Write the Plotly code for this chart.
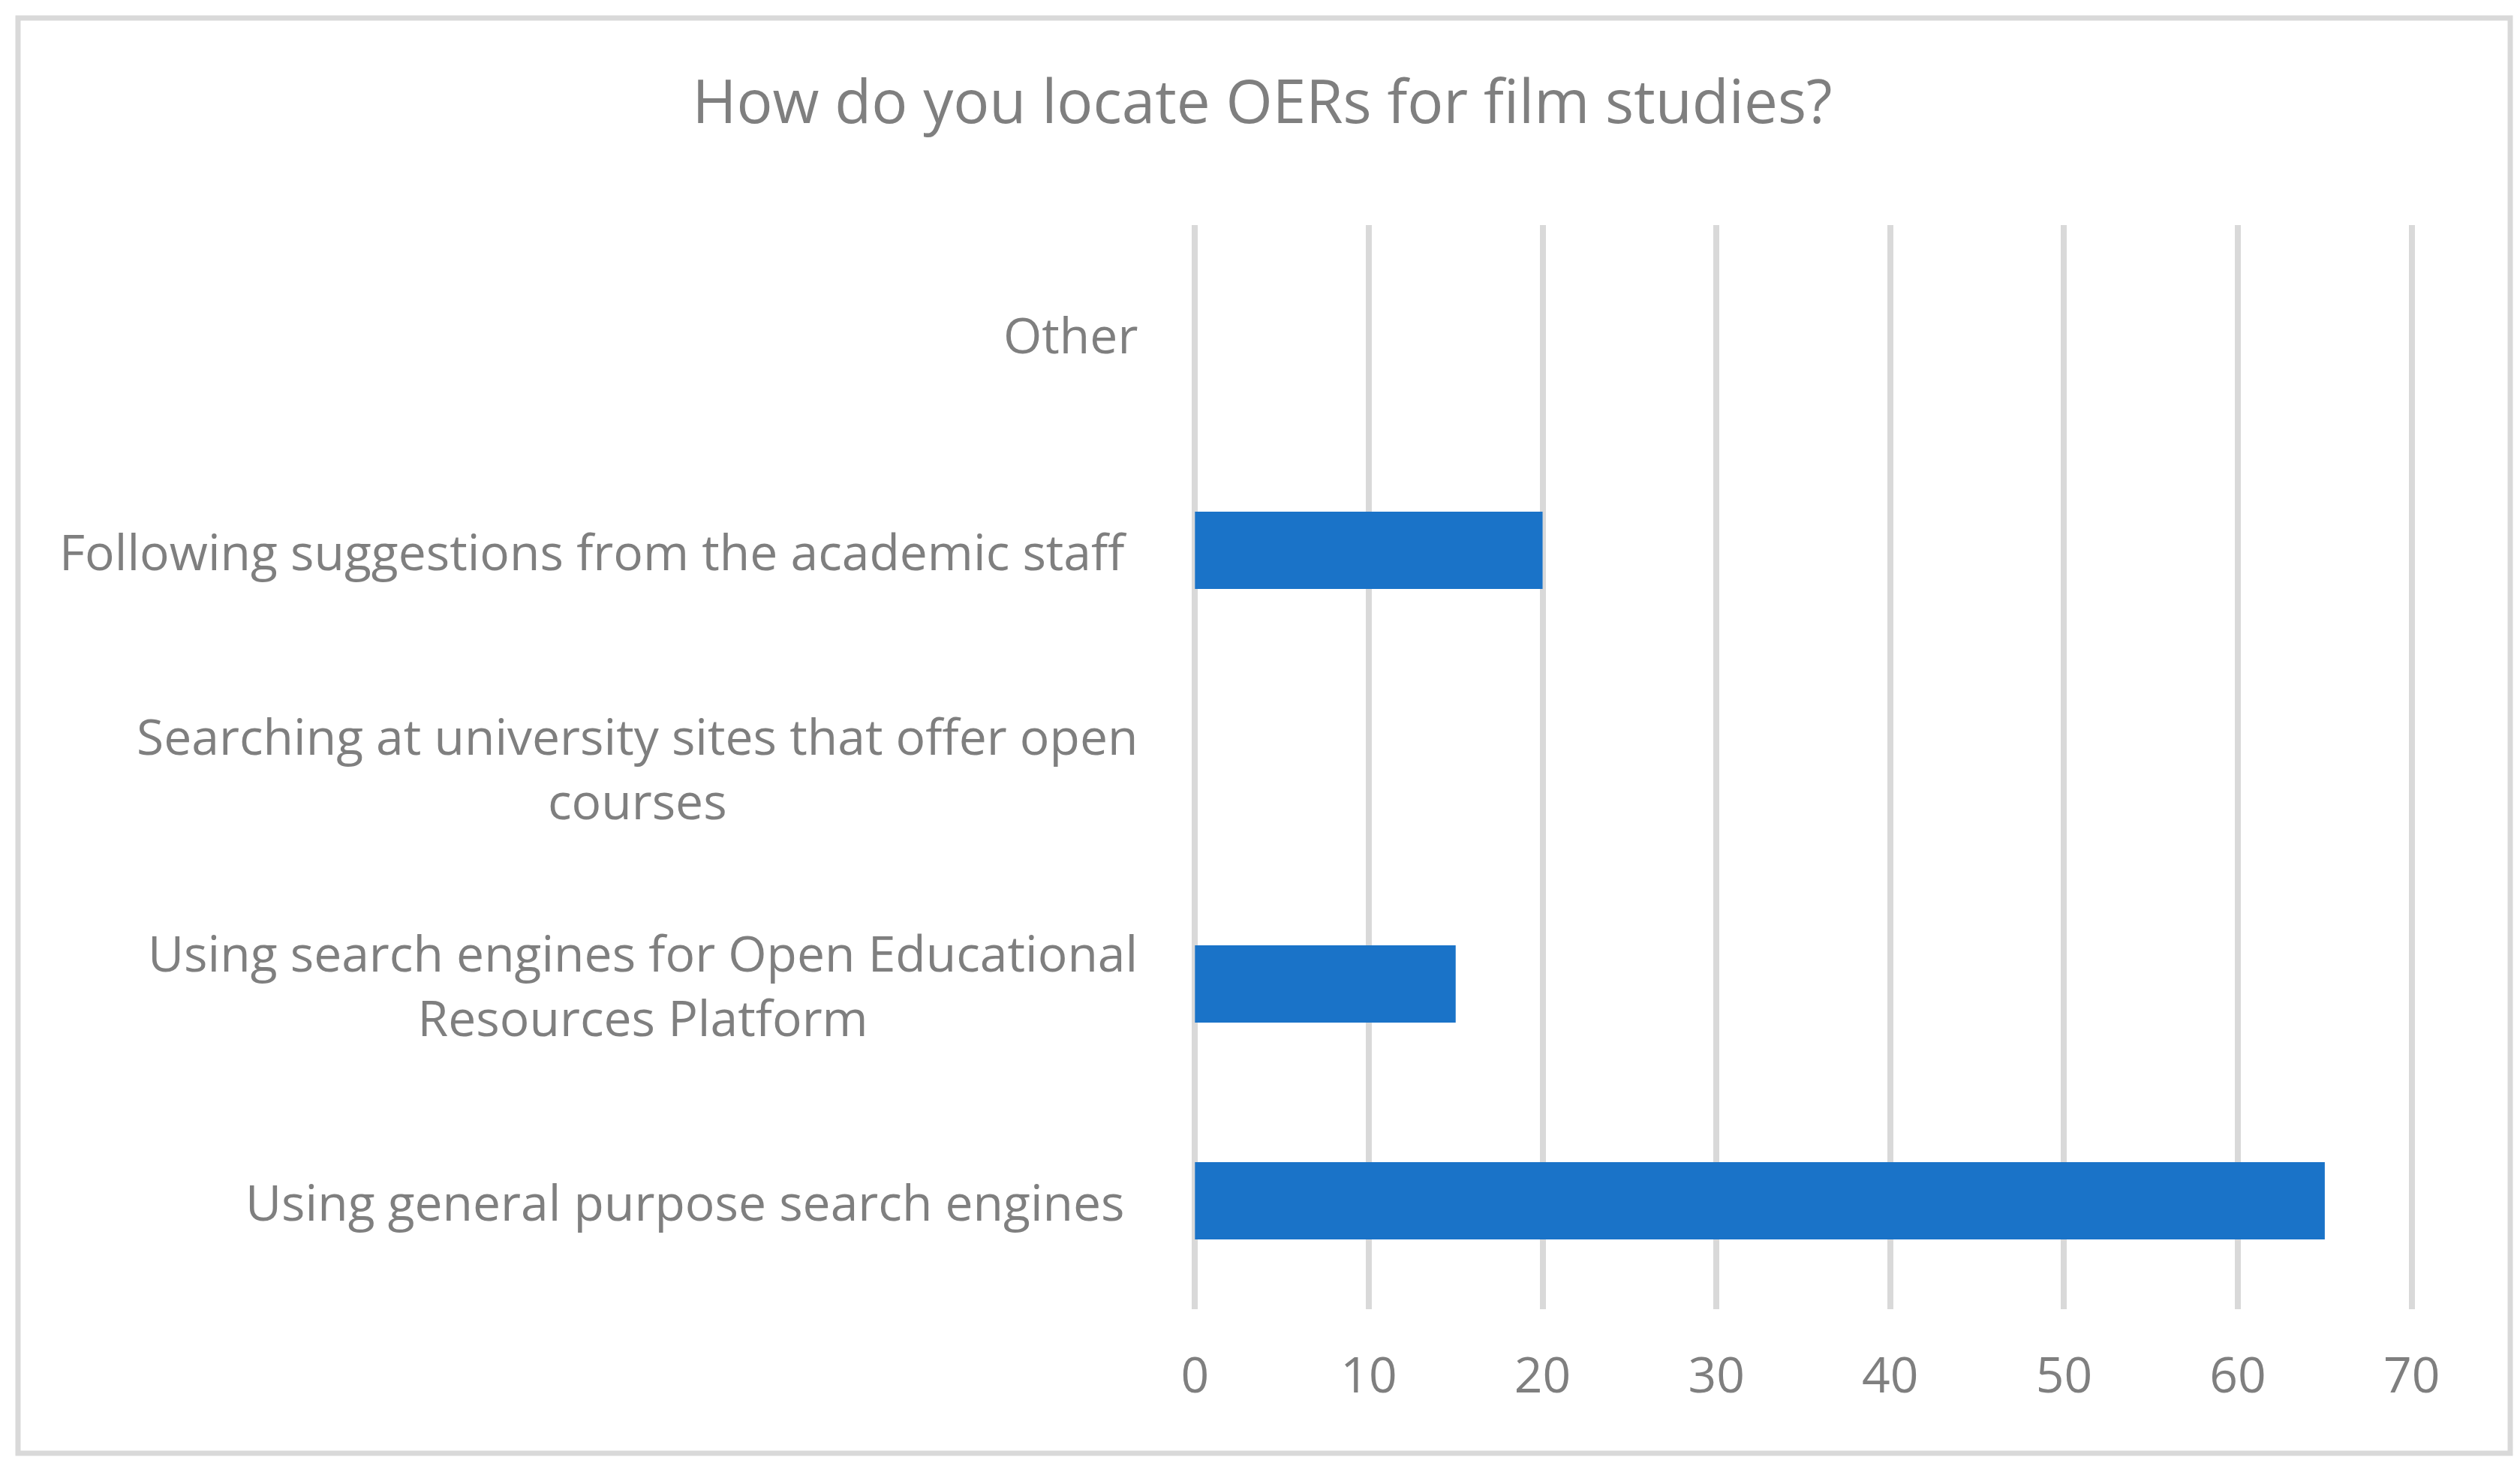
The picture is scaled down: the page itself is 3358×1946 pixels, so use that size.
import plotly.graph_objects as go

# survey answers, bottom to top as drawn
categories = [
    "Using general purpose search engines\u00a0",
    "Using search engines for Open Educational<br>Resources Platform",
    "Searching at university sites that offer open<br>courses",
    "Following suggestions from the academic staff\u00a0",
    "Other",
]
responses = [65, 15, 0, 20, 0]
x_ticks = [0, 10, 20, 30, 40, 50, 60, 70]

W, H = 3358, 1946
L, R, T, B = 1582, 150, 292, 209
GREY_TXT = "#7F7F7F"
GRID = "#D9D9D9"
FONT = "Open Sans"

fig = go.Figure()
fig.add_trace(go.Bar(
    x=responses,
    y=categories,
    orientation="h",
    marker=dict(color="#1A73C8", line=dict(width=0)),
    showlegend=False,
))

# category labels as annotations so wrapped lines are centred like Excel
annotations = []
for cat in categories:
    annotations.append(dict(
        x=0, xref="paper", xanchor="right", xshift=-72,
        y=cat, yref="y", yanchor="middle",
        text=cat, align="center", showarrow=False,
        font=dict(family=FONT, size=66, color=GREY_TXT),
    ))

# outer chart border (pixel positions -> paper coords)
pw, ph = W - L - R, H - T - B
def px(x):
    return (x - L) / pw
def py(y):
    return 1 - (y - T) / ph

fig.update_layout(
    width=W, height=H, autosize=False,
    margin=dict(l=L, r=R, t=T, b=B, pad=0),
    paper_bgcolor="white",
    plot_bgcolor="white",
    title=dict(
        text="How do you locate OERs for film studies?",
        x=0.4985, xref="container", xanchor="center",
        y=1 - 128 / H, yref="container", yanchor="middle",
        font=dict(family=FONT, size=80, color=GREY_TXT),
    ),
    xaxis=dict(
        # a hair wider than 0-70 so plotly keeps the edge gridlines
        range=[-0.1, 70.1],
        tickvals=x_ticks,
        showgrid=True, gridcolor=GRID, gridwidth=8,
        zeroline=False, showline=False,
        ticks="", ticklabelstandoff=44,
        tickfont=dict(family=FONT, size=66, color=GREY_TXT),
    ),
    yaxis=dict(
        type="category",
        showticklabels=False, showgrid=False, zeroline=False, showline=False,
    ),
    bargap=0.643,
    annotations=annotations,
    shapes=[dict(
        type="rect", xref="paper", yref="paper",
        x0=px(16), x1=px(3337), y0=py(1929), y1=py(16),
        line=dict(color=GRID, width=7), fillcolor="rgba(0,0,0,0)",
        layer="below",
    )],
)

fig.write_html("out.html")
